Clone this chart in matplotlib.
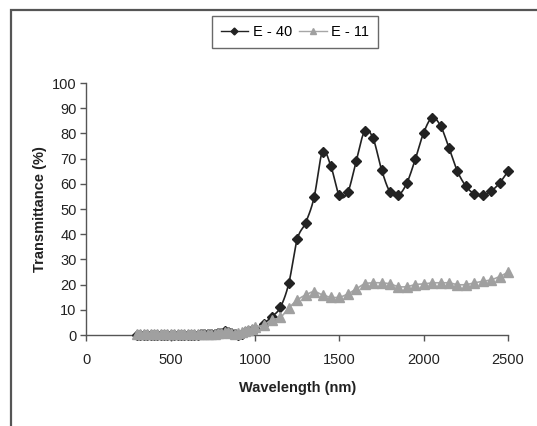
import matplotlib
matplotlib.use("Agg")
import matplotlib.pyplot as plt
import numpy as np
from matplotlib.patches import Rectangle
from matplotlib.lines import Line2D

plt.rcParams['font.family'] = ['Liberation Sans', 'DejaVu Sans']

wavelength = [300, 320, 340, 360, 380, 400, 420, 440, 460, 480, 500, 520, 540, 560,
              580, 600, 620, 640, 660, 680, 700, 720, 740, 760, 780, 800, 820, 840,
              860, 880, 900, 920, 940, 960, 980,
              1000, 1050, 1100, 1150, 1200, 1250, 1300, 1350, 1400, 1450, 1500, 1550,
              1600, 1650, 1700, 1750, 1800, 1850, 1900, 1950, 2000, 2050, 2100, 2150,
              2200, 2250, 2300, 2350, 2400, 2450, 2500]

e40 = [0.2, 0.2, 0.2, 0.2, 0.2, 0.2, 0.2, 0.2, 0.2, 0.2, 0.2, 0.2, 0.2, 0.2,
       0.2, 0.2, 0.2, 0.2, 0.2, 0.3, 0.3, 0.3, 0.4, 0.5, 0.6, 0.8, 1.5, 1.3,
       0.6, 0.3, 0.2, 0.5, 1.0, 1.5, 2.0,
       2.5, 4.5, 7.3, 11.0, 20.5, 38.0, 44.6, 54.6, 72.8, 66.9, 55.4, 56.7,
       69.1, 80.9, 78.0, 65.6, 56.8, 55.5, 60.3, 69.7, 80.3, 86.2, 83.0, 74.3,
       65.0, 59.1, 56.0, 55.4, 57.1, 60.3, 65.0]

e11 = [0.3, 0.3, 0.3, 0.3, 0.3, 0.3, 0.3, 0.3, 0.3, 0.3, 0.3, 0.3, 0.3, 0.3,
       0.3, 0.3, 0.3, 0.3, 0.3, 0.3, 0.4, 0.4, 0.5, 0.5, 0.6, 0.8, 1.0, 1.0,
       0.8, 0.5, 0.6, 1.0, 1.5, 2.0, 2.5,
       3.0, 4.0, 6.0, 7.0, 10.7, 13.9, 15.9, 17.2, 15.9, 15.0, 15.0, 16.3,
       18.3, 20.3, 20.7, 20.7, 20.3, 19.2, 19.2, 20.0, 20.3, 20.7, 20.7, 20.7,
       20.0, 20.0, 20.7, 21.3, 21.9, 23.2, 24.9]

x_ticks = [0, 500, 1000, 1500, 2000, 2500]
y_ticks = [0, 10, 20, 30, 40, 50, 60, 70, 80, 90, 100]


def smooth_path(xs, ys, n=12):
    """Catmull-Rom style curve through the data points (Excel 'smoothed line')."""
    x = np.asarray(xs, float)
    y = np.asarray(ys, float)
    px = np.concatenate([[x[0]], x, [x[-1]]])
    py = np.concatenate([[y[0]], y, [y[-1]]])
    outx, outy = [], []
    t = np.linspace(0, 1, n, endpoint=False)
    for i in range(1, len(px) - 2):
        p0x, p1x, p2x, p3x = px[i - 1], px[i], px[i + 1], px[i + 2]
        p0y, p1y, p2y, p3y = py[i - 1], py[i], py[i + 1], py[i + 2]
        c1x = p1x + (p2x - p0x) / 6.0
        c1y = p1y + (p2y - p0y) / 6.0
        c2x = p2x - (p3x - p1x) / 6.0
        c2y = p2y - (p3y - p1y) / 6.0
        bx = ((1 - t) ** 3) * p1x + 3 * ((1 - t) ** 2) * t * c1x + 3 * (1 - t) * t ** 2 * c2x + t ** 3 * p2x
        by = ((1 - t) ** 3) * p1y + 3 * ((1 - t) ** 2) * t * c1y + 3 * (1 - t) * t ** 2 * c2y + t ** 3 * p2y
        outx.extend(bx)
        outy.extend(by)
    outx.append(x[-1])
    outy.append(y[-1])
    return outx, outy


fig = plt.figure(figsize=(5.37, 4.26), dpi=100)
ax = fig.add_axes([0.161, 0.2136, 0.785, 0.5915])

sx40, sy40 = smooth_path(wavelength, e40)
sx11, sy11 = smooth_path(wavelength, e11)

ax.plot(sx40, sy40, color='#222222', lw=1.2, zorder=2, clip_on=False)
ax.plot(wavelength, e40, ls='none', marker='D', ms=5.5,
        mfc='#222222', mec='#222222', zorder=3, clip_on=False)
ax.plot(sx11, sy11, color='#a6a6a6', lw=1.2, zorder=4, clip_on=False)
ax.plot(wavelength, e11, ls='none', marker='^', ms=6.5,
        mfc='#a0a0a0', mec='#a0a0a0', zorder=5, clip_on=False)

ax.set_xlim(0, 2500)
ax.set_ylim(0, 100)
ax.set_xticks(x_ticks)
ax.set_yticks(y_ticks)
ax.set_xticklabels([str(v) for v in x_ticks], fontsize=10.5)
ax.set_yticklabels([str(v) for v in y_ticks], fontsize=10.5)
for s in ['top', 'right']:
    ax.spines[s].set_visible(False)
for s in ['left', 'bottom']:
    ax.spines[s].set_color('#555555')
    ax.spines[s].set_linewidth(1.0)
ax.tick_params(axis='both', direction='out', length=4, width=1.0,
               color='#555555', labelcolor='#222222')
ax.tick_params(axis='x', pad=9)
ax.tick_params(axis='y', pad=3)

ax.set_xlabel('Wavelength (nm)', fontsize=10.5, fontweight='bold', labelpad=10,
              color='#222222')
ax.set_ylabel('Transmittance (%)', fontsize=10.5, fontweight='bold', labelpad=4,
              color='#222222')

handles = [Line2D([], [], color='#222222', lw=1.0, marker='D', ms=3.5,
                  mfc='#222222', mec='#222222'),
           Line2D([], [], color='#a6a6a6', lw=1.0, marker='^', ms=4,
                  mfc='#a0a0a0', mec='#a0a0a0')]
leg = fig.legend(handles, ['E - 40', 'E - 11'], loc='center',
                 bbox_to_anchor=(295 / 537, 1 - 32 / 426), ncol=2,
                 fontsize=10.5, frameon=True, fancybox=False,
                 handlelength=1.9, handletextpad=0.3, columnspacing=0.5,
                 borderpad=0.6, borderaxespad=0, edgecolor='#444444')
leg.get_frame().set_linewidth(1.0)

fig.patches.append(Rectangle((11 / 537, -0.2), 1.2, 0.2 + 1 - 10 / 426,
                             transform=fig.transFigure, fill=False,
                             edgecolor='#555555', lw=1.6))

fig.savefig('out.png', dpi=100)
